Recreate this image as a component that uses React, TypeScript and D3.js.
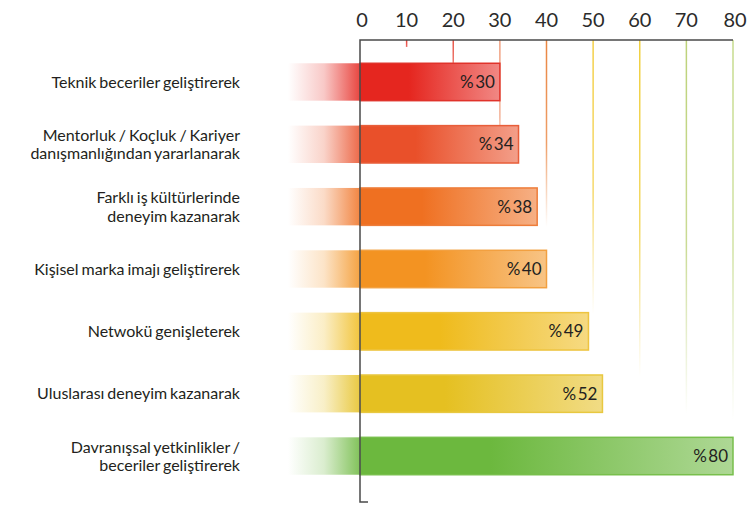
import React from 'react';
import * as d3 from 'd3';

const categories = [
  ['Teknik beceriler geliştirerek'],
  ['Mentorluk / Koçluk / Kariyer', 'danışmanlığından yararlanarak'],
  ['Farklı iş kültürlerinde', 'deneyim kazanarak'],
  ['Kişisel marka imajı geliştirerek'],
  ['Netwokü genişleterek'],
  ['Uluslarası deneyim kazanarak'],
  ['Davranışsal yetkinlikler /', 'beceriler geliştirerek'],
];
const values = [30, 34, 38, 40, 49, 52, 80];
const barColors = ['#e5261f', '#e9502a', '#ef7021', '#f39322', '#efbb1c', '#e5c021', '#6cb83e'];
const barStrokes = ['#e0332b', '#e85e3a', '#ee7d3a', '#f2a040', '#eec440', '#e8c840', '#78bf4c'];
const ticks = [0, 10, 20, 30, 40, 50, 60, 70, 80];
const gridColors = ['none', '#e8413a', '#e8574a', '#f0a080', '#ea8642', '#f3cf48', '#f0d040', '#bdd27a', '#c6db8d'];
// how far down each gridline runs, in bar slots (fractional)
const gridReach = [0, 0.12, 0.6, 1.6, 3.0, 4.4, 5.4, 6.0, 6.1];

const W = 749;
const H = 505;
const FONT = "Lato, 'Open Sans', sans-serif";

export default function App() {
  const x = d3.scaleLinear().domain([0, 80]).range([360, 733]);
  const y = d3
    .scaleBand<number>()
    .domain(d3.range(values.length))
    .range([50.8, 487.2])
    .paddingInner(0.4)
    .paddingOuter(0.2);
  const step = y.step();
  const axisTop = 40;
  const reachY = (r: number) => axisTop + r * step;

  return (
    <svg width={W} height={H} style={{ position: 'absolute', left: 0, top: 0, background: '#fff' }}>
      <defs>
        {values.map((v, i) => (
          <React.Fragment key={i}>
            <linearGradient id={`bar${i}`} x1="0" x2="1" y1="0" y2="0">
              <stop offset="0" stopColor={barColors[i]} />
              <stop offset="0.35" stopColor={barColors[i]} />
              <stop offset="1" stopColor={d3.interpolateRgb(barColors[i], '#fff')(0.45)} />
            </linearGradient>
            <linearGradient id={`fade${i}`} x1="0" x2="1" y1="0" y2="0">
              <stop offset="0" stopColor={barColors[i]} stopOpacity={0} />
              <stop offset="0.5" stopColor={barColors[i]} stopOpacity={0.25} />
              <stop offset="1" stopColor={barColors[i]} stopOpacity={0.85} />
            </linearGradient>
          </React.Fragment>
        ))}
        {ticks.map((t, i) => (
          <linearGradient key={t} id={`grid${i}`} x1="0" x2="0" y1="0" y2="1">
            <stop offset="0" stopColor={gridColors[i]} stopOpacity={1} />
            <stop offset={i >= 4 ? 0.55 : 0.9} stopColor={gridColors[i]} stopOpacity={0.8} />
            <stop offset="1" stopColor={gridColors[i]} stopOpacity={i >= 4 ? 0 : 0.6} />
          </linearGradient>
        ))}
      </defs>

      {/* gridlines */}
      {ticks.map((t, i) =>
        i === 0 ? null : (
          <rect
            key={t}
            x={x(t) - 0.75}
            y={axisTop}
            width={1.5}
            height={(i === 1 ? axisTop + 7 : i === 2 ? y(0)! : i === 3 ? y(1)! : reachY(gridReach[i])) - axisTop}
            fill={`url(#grid${i})`}
          />
        )
      )}

      {/* bars */}
      {values.map((v, i) => (
        <g key={i}>
          <rect x={x(0) - 72} y={y(i)} width={72} height={y.bandwidth()} fill={`url(#fade${i})`} />
          <rect
            x={x(0)}
            y={y(i)}
            width={x(v) - x(0)}
            height={y.bandwidth()}
            fill={`url(#bar${i})`}
            stroke={barStrokes[i]}
            strokeWidth={1.5}
          />
          <text
            x={x(v) - 5}
            y={y(i)! + y.bandwidth() / 2}
            dy="0.36em"
            textAnchor="end"
            fontFamily={FONT}
            fontSize={17}
            fill="#231f20"
          >
            %<tspan dx={1.5}>{v}</tspan>
          </text>
        </g>
      ))}

      {/* category labels */}
      {categories.map((lines, i) => {
        const cy = y(i)! + y.bandwidth() / 2;
        return (
          <text key={i} textAnchor="end" fontFamily={FONT} fontSize={16} wordSpacing={-1.2} fill="#231f20">
            {lines.map((l, j) => (
              <tspan key={j} x={240} y={cy + (j - (lines.length - 1) / 2) * 18.5} dy="0.36em">
                {l}
              </tspan>
            ))}
          </text>
        );
      })}

      {/* axes */}
      <path
        d={`M${x(80)},${axisTop}H${x(0)}V${H - 3}H${x(0) + 8}`}
        fill="none"
        stroke="#4a4a4a"
        strokeWidth={1.5}
      />
      {ticks.map((t) => (
        <text
          key={t}
          x={x(t) + (t === 0 ? 2 : t === 80 ? 2 : 0)}
          y={27}
          textAnchor="middle"
          fontFamily={FONT}
          fontSize={20}
          fill="#2b2b2b"
        >
          {t}
        </text>
      ))}
    </svg>
  );
}
